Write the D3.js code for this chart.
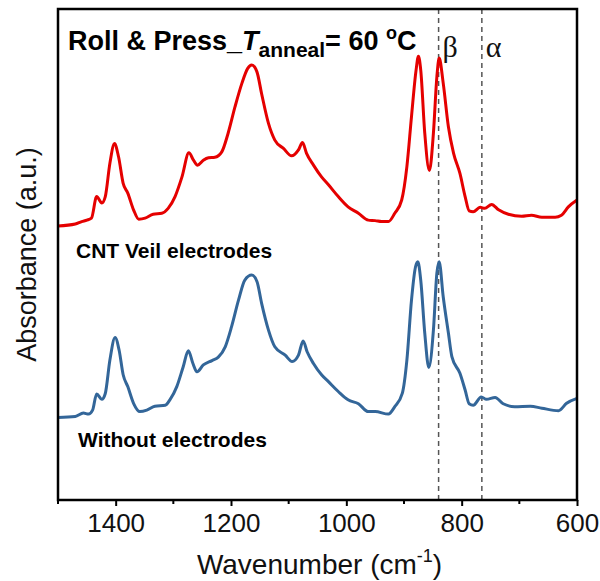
<!DOCTYPE html>
<html>
<head>
<meta charset="utf-8">
<script src="https://cdn.jsdelivr.net/npm/d3@7"></script>
<style>
  body { margin: 0; background: #fff; }
  svg { font-family: Arial, "Liberation Sans", sans-serif; }
</style>
</head>
<body>
<div id="chart"></div>
<script>
// wavenumber (cm-1) and absorbance (a.u., offset)
const cntWave = [1500, 1470, 1459, 1450, 1442, 1433, 1424, 1418, 1410, 1402, 1395, 1387, 1379, 1369, 1360, 1349, 1335, 1320, 1309, 1297, 1285, 1273, 1265, 1258, 1248, 1239, 1228, 1216, 1205, 1193, 1181, 1171, 1164, 1155, 1147, 1135, 1124, 1109, 1095, 1083, 1076, 1069, 1057, 1043, 1031, 1014, 997, 979, 962, 950, 939, 927, 916, 904, 895, 887, 879, 875, 871, 864, 856, 849, 843, 839, 832, 823, 814, 803, 794, 787, 780, 768, 760, 748, 736, 719, 696, 679, 661, 638, 627, 615, 600];
const cntAbs = [0.558, 0.562, 0.567, 0.570, 0.574, 0.618, 0.605, 0.618, 0.686, 0.726, 0.699, 0.645, 0.625, 0.591, 0.572, 0.574, 0.582, 0.584, 0.594, 0.618, 0.658, 0.707, 0.692, 0.682, 0.692, 0.697, 0.698, 0.709, 0.747, 0.801, 0.849, 0.879, 0.886, 0.872, 0.828, 0.767, 0.733, 0.716, 0.701, 0.713, 0.728, 0.706, 0.682, 0.658, 0.642, 0.618, 0.597, 0.584, 0.570, 0.569, 0.567, 0.567, 0.584, 0.611, 0.679, 0.781, 0.876, 0.904, 0.876, 0.747, 0.671, 0.747, 0.862, 0.900, 0.849, 0.760, 0.706, 0.665, 0.618, 0.589, 0.587, 0.596, 0.594, 0.602, 0.591, 0.582, 0.578, 0.580, 0.576, 0.576, 0.580, 0.597, 0.611];

const bareWave = [1500, 1470, 1456, 1447, 1440, 1433, 1424, 1418, 1410, 1401, 1394, 1387, 1379, 1369, 1358, 1346, 1332, 1314, 1306, 1294, 1283, 1274, 1266, 1259, 1248, 1233, 1222, 1210, 1199, 1187, 1176, 1164, 1155, 1147, 1135, 1124, 1106, 1094, 1083, 1075, 1068, 1057, 1043, 1031, 1014, 997, 979, 962, 950, 927, 916, 903, 895, 887, 880, 876, 871, 864, 857, 849, 843, 839, 832, 823, 817, 803, 794, 787, 780, 766, 757, 742, 728, 708, 681, 661, 632, 618, 600];
const bareAbs = [0.168, 0.170, 0.177, 0.175, 0.183, 0.216, 0.205, 0.217, 0.285, 0.331, 0.305, 0.255, 0.231, 0.197, 0.180, 0.183, 0.191, 0.193, 0.204, 0.231, 0.271, 0.304, 0.278, 0.261, 0.275, 0.284, 0.291, 0.312, 0.353, 0.407, 0.448, 0.458, 0.445, 0.401, 0.346, 0.312, 0.295, 0.282, 0.295, 0.324, 0.302, 0.278, 0.255, 0.241, 0.221, 0.204, 0.196, 0.180, 0.180, 0.175, 0.190, 0.217, 0.285, 0.407, 0.475, 0.485, 0.448, 0.340, 0.270, 0.346, 0.462, 0.485, 0.414, 0.340, 0.292, 0.258, 0.224, 0.196, 0.193, 0.210, 0.205, 0.209, 0.196, 0.190, 0.191, 0.187, 0.182, 0.197, 0.207];

const phaseWave = [840, 765];
const phaseLabels = ["β", "α"];
const xTicks = [1400, 1200, 1000, 800, 600];
const xMinor = [1500, 1300, 1100, 900, 700];

const W = 600, H = 581;
const margin = {top: 9, right: 23, bottom: 81, left: 58};
const width = W - margin.left - margin.right;
const height = H - margin.top - margin.bottom;

const svg = d3.select("#chart").append("svg")
    .attr("width", W)
    .attr("height", H);

const g = svg.append("g")
    .attr("transform", `translate(${margin.left},${margin.top})`);

const x = d3.scaleLinear().domain([1500, 600]).range([0, width]);
const y = d3.scaleLinear().domain([0, 1]).range([height, 0]);

// dashed phase markers
g.selectAll(".phase")
    .data(phaseWave)
    .enter().append("line")
    .attr("x1", d => x(d)).attr("x2", d => x(d))
    .attr("y1", 0).attr("y2", height)
    .attr("stroke", "#555")
    .attr("stroke-width", 1.5)
    .attr("stroke-dasharray", "5,4");

g.selectAll(".phaseLabel")
    .data(phaseWave)
    .enter().append("text")
    .attr("x", d => x(d) + 4)
    .attr("y", 48)
    .attr("font-family", "'Times New Roman', 'Liberation Serif', serif")
    .attr("font-size", 30)
    .attr("fill", "#111")
    .text((d, i) => phaseLabels[i]);

// spectra
const line = d3.line().curve(d3.curveMonotoneX);

const series = [
    {wave: cntWave, abs: cntAbs, color: "#e50000"},
    {wave: bareWave, abs: bareAbs, color: "#336699"}
];

series.forEach(s => {
    g.append("path")
        .attr("d", line(s.wave.map((w, i) => [x(w), y(s.abs[i])])))
        .attr("fill", "none")
        .attr("stroke", s.color)
        .attr("stroke-width", 3)
        .attr("stroke-linejoin", "round");
});

// bottom axis
const xAxis = g.append("g")
    .attr("transform", `translate(0,${height})`)
    .call(d3.axisBottom(x).tickValues(xTicks).tickSize(6).tickPadding(8).tickFormat(d3.format("d")));
xAxis.select(".domain").remove();
xAxis.selectAll("line").attr("stroke", "#000").attr("stroke-width", 2);
xAxis.selectAll("text").attr("font-size", 26).attr("fill", "#111")
    .attr("font-family", "Arial, 'Liberation Sans', sans-serif");

g.append("g")
    .attr("transform", `translate(0,${height})`)
    .selectAll("line")
    .data(xMinor)
    .enter().append("line")
    .attr("x1", d => x(d)).attr("x2", d => x(d))
    .attr("y1", 0).attr("y2", 4)
    .attr("stroke", "#000").attr("stroke-width", 2);

// frame
g.append("rect")
    .attr("width", width).attr("height", height)
    .attr("fill", "none")
    .attr("stroke", "#000")
    .attr("stroke-width", 2.5);

// axis titles
const xTitle = svg.append("text")
    .attr("x", margin.left + width / 2 + 2)
    .attr("y", 574)
    .attr("text-anchor", "middle")
    .attr("font-size", 28)
    .attr("fill", "#111");
xTitle.append("tspan").text("Wavenumber (cm");
xTitle.append("tspan").attr("font-size", 18).attr("dy", -12).text("-1");
xTitle.append("tspan").attr("dy", 12).text(")");

svg.append("text")
    .attr("transform", `translate(36,${margin.top + height / 2}) rotate(-90)`)
    .attr("text-anchor", "middle")
    .attr("font-size", 27)
    .attr("fill", "#111")
    .text("Absorbance (a.u.)");

// title
const title = svg.append("text")
    .attr("x", 68)
    .attr("y", 50)
    .attr("font-size", 27)
    .attr("font-weight", "bold")
    .attr("fill", "#000");
title.append("tspan").text("Roll & Press_");
title.append("tspan").attr("font-style", "italic").text("T");
title.append("tspan").attr("font-size", 21).attr("dy", 7).text("anneal");
title.append("tspan").attr("dy", -7).text("= 60 ");
title.append("tspan").attr("font-size", 18).attr("dy", -11).text("o");
title.append("tspan").attr("dy", 11).text("C");

// series labels
svg.append("text")
    .attr("x", 76).attr("y", 258)
    .attr("font-size", 21).attr("font-weight", "bold")
    .text("CNT Veil electrodes");

svg.append("text")
    .attr("x", 78).attr("y", 447)
    .attr("font-size", 21).attr("font-weight", "bold")
    .text("Without electrodes");
</script>
</body>
</html>
